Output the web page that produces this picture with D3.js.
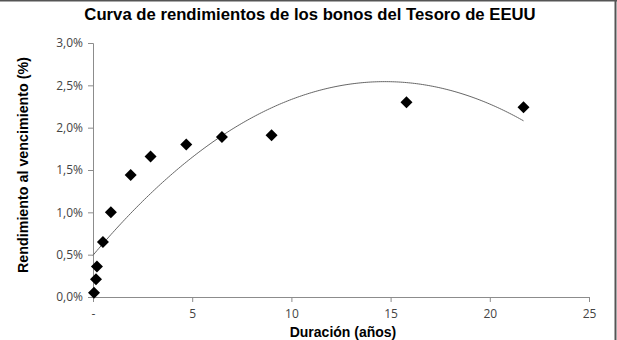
<!DOCTYPE html>
<html>
<head>
<meta charset="utf-8">
<script src="https://cdn.jsdelivr.net/npm/d3@7"></script>
<style>
  body { margin: 0; background: #fff; }
  svg { display: block; }
  .tick text { font-family: "Open Sans", "Liberation Sans", sans-serif; font-size: 12px; fill: #444; }
</style>
</head>
<body>
<div id="chart"></div>
<script>
// duration in years for each Treasury issue
var durations = [0.05, 0.15, 0.2, 0.5, 0.9, 1.9, 2.9, 4.7, 6.5, 9.0, 15.8, 21.7];
// yield to maturity, in %
var yields = [0.05, 0.21, 0.36, 0.65, 1.00, 1.44, 1.66, 1.80, 1.89, 1.91, 2.30, 2.24];

var xTicks = [0, 5, 10, 15, 20, 25];
var yTicks = [0, 0.5, 1.0, 1.5, 2.0, 2.5, 3.0];

var title = "Curva de rendimientos de los bonos del Tesoro de EEUU";
var xTitle = "Duración (años)";
var yTitle = "Rendimiento al vencimiento (%)";

var W = 617, H = 340;
var margin = {left: 93, right: 28, top: 43, bottom: 43};

var svg = d3.select("#chart").append("svg")
    .attr("width", W)
    .attr("height", H);

// frame (only top and right edges show in the original)
svg.append("line").attr("x1", 0).attr("x2", W).attr("y1", 0.5).attr("y2", 0.5)
    .attr("stroke", "#555").attr("stroke-width", 2);
svg.append("line").attr("x1", W - 1.5).attr("x2", W - 1.5).attr("y1", 0).attr("y2", H)
    .attr("stroke", "#555").attr("stroke-width", 2);

var x = d3.scaleLinear().domain([0, 25]).range([margin.left, W - margin.right]);
var y = d3.scaleLinear().domain([0, 3]).range([H - margin.bottom, margin.top]);

var fmtY = function(d) { return d3.format(".1f")(d).replace(".", ",") + "%"; };

var yAxis = svg.append("g")
    .attr("transform", "translate(" + x(0) + ",0)")
    .call(d3.axisLeft(y).tickValues(yTicks).tickSize(5).tickPadding(5).tickFormat(fmtY));

var xAxis = svg.append("g")
    .attr("transform", "translate(0," + y(0) + ")")
    .call(d3.axisBottom(x).tickValues(xTicks).tickSize(5).tickPadding(7)
        .tickFormat(function(d) { return d === 0 ? "-" : d; }));

[xAxis, yAxis].forEach(function(g) {
    g.select(".domain").attr("stroke", "#8c8c8c");
    g.selectAll(".tick line").attr("stroke", "#8c8c8c");
});

// quadratic trendline: least squares fit of the points (like the spreadsheet's polynomial trend)
function quadFit(xs, ys) {
    var s = [0, 0, 0, 0, 0], t = [0, 0, 0];
    for (var i = 0; i < xs.length; i++) {
        var p = 1;
        for (var k = 0; k < 5; k++) { s[k] += p; if (k < 3) t[k] += p * ys[i]; p *= xs[i]; }
    }
    var A = [[s[0], s[1], s[2], t[0]], [s[1], s[2], s[3], t[1]], [s[2], s[3], s[4], t[2]]];
    for (var c = 0; c < 3; c++) {
        for (var r = c + 1; r < 3; r++) {
            var f = A[r][c] / A[c][c];
            for (var j = c; j < 4; j++) A[r][j] -= f * A[c][j];
        }
    }
    var b = [0, 0, 0];
    for (var r2 = 2; r2 >= 0; r2--) {
        var v = A[r2][3];
        for (var j2 = r2 + 1; j2 < 3; j2++) v -= A[r2][j2] * b[j2];
        b[r2] = v / A[r2][r2];
    }
    return b;
}

var coef = quadFit(durations, yields);
var trendX = d3.range(0, d3.max(durations) + 0.001, 0.1);
var line = d3.line()
    .x(function(d) { return x(d); })
    .y(function(d) { return y(coef[0] + coef[1] * d + coef[2] * d * d); });

svg.append("path")
    .attr("d", line(trendX))
    .attr("fill", "none")
    .attr("stroke", "#666")
    .attr("stroke-width", 1);

// markers: black diamonds
var r = 6;
svg.selectAll(".pt")
    .data(durations)
    .enter().append("path")
    .attr("class", "pt")
    .attr("d", function(d, i) {
        var cx = x(d), cy = y(yields[i]);
        return "M" + cx + "," + (cy - r) + "L" + (cx + r) + "," + cy + "L" + cx + "," + (cy + r) + "L" + (cx - r) + "," + cy + "Z";
    })
    .attr("fill", "#000");

// titles
svg.append("text")
    .attr("x", 310).attr("y", 20)
    .attr("text-anchor", "middle")
    .attr("font-family", "Liberation Sans, Arial, sans-serif")
    .attr("font-weight", "bold")
    .attr("font-size", 16.7)
    .text(title);

svg.append("text")
    .attr("x", 343).attr("y", 337)
    .attr("text-anchor", "middle")
    .attr("font-family", "Liberation Sans, Arial, sans-serif")
    .attr("font-weight", "bold")
    .attr("font-size", 14)
    .text(xTitle);

svg.append("text")
    .attr("transform", "translate(28," + 165 + ")rotate(-90)")
    .attr("text-anchor", "middle")
    .attr("font-family", "Liberation Sans, Arial, sans-serif")
    .attr("font-weight", "bold")
    .attr("font-size", 14.3)
    .text(yTitle);
</script>
</body>
</html>
